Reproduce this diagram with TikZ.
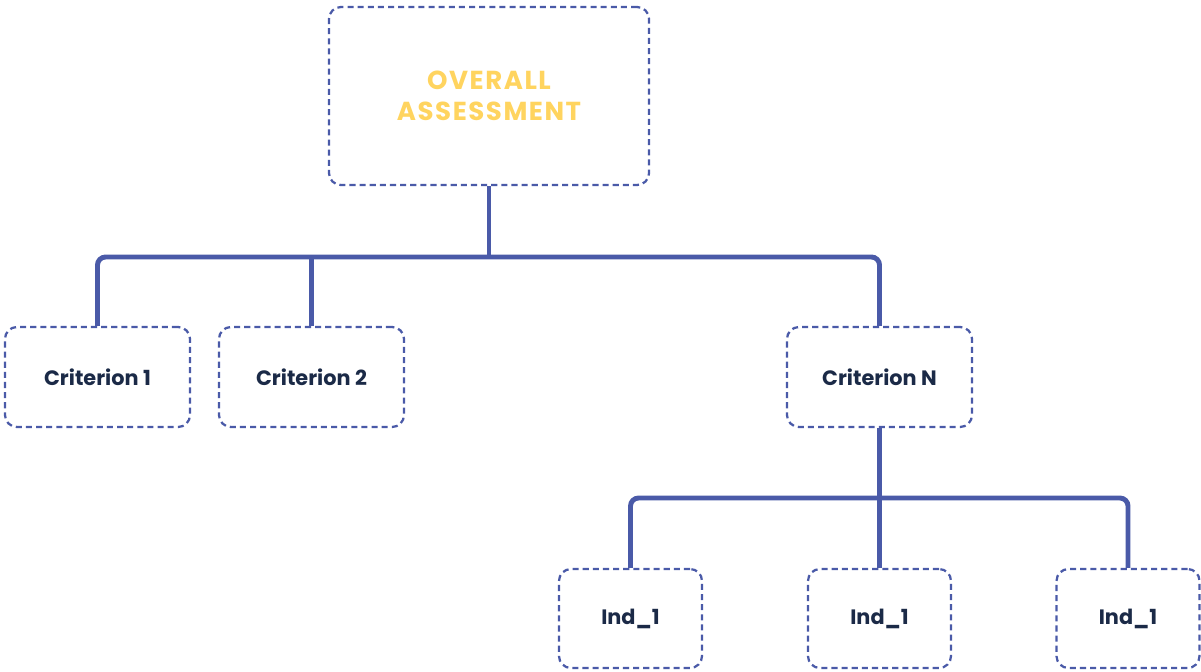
\documentclass[tikz,border=0pt]{standalone}
\usepackage{fontspec}
\setmainfont{Poppins}
\newfontfamily\titlefont[LetterSpace=6]{Poppins}
\usetikzlibrary{positioning}
\definecolor{linkblue}{HTML}{4A5AA8}
\definecolor{titleyellow}{HTML}{FFD45F}
\definecolor{textnavy}{HTML}{1B2A47}
\begin{document}
\begin{tikzpicture}[x=0.025cm, y=-0.025cm]

% definitions
\tikzstyle{box} = [rectangle, rounded corners=0.3cm, draw=linkblue, line width=1.6pt, dash pattern=on 4.3pt off 2.9pt, fill=white, text centered, text=textnavy, font=\fontsize{14.8}{17}\selectfont\bfseries]
\tikzstyle{top} = [box, minimum width=8cm, minimum height=4.45cm, text=titleyellow, font=\titlefont\fontsize{18.5}{22}\selectfont\bfseries, align=center]
\tikzstyle{criterion} = [box, minimum width=4.625cm, minimum height=2.5cm]
\tikzstyle{indicator} = [box, minimum width=3.575cm, minimum height=2.475cm]
\tikzstyle{link} = [draw=linkblue, line width=3.5pt, rounded corners=0.2cm]

\useasboundingbox (0,0) rectangle (1201,671);

% the graph
\node (root) [top] at (489,96) {OVERALL\\ASSESSMENT};

\node (c1) [criterion] at (97.5,377) {Criterion 1};
\node (c2) [criterion] at (311.5,377) {Criterion 2};
\node (cn) [criterion] at (879.5,377) {Criterion N};

\node (i1) [indicator] at (630.5,618.5) {Ind\_1};
\node (i2) [indicator] at (879.5,618.5) {Ind\_1};
\node (i3) [indicator] at (1128,618.5) {Ind\_1};

\coordinate (bus1) at (489,257);
\coordinate (bus2) at (879.5,498);

\draw [link] (root.south) -- (bus1);
\draw [link] (c1.north) |- (bus1) -| (cn.north);
\draw [link] (c2.north) -- (c2.north |- bus1);
\draw [link] (cn.south) -- (bus2);
\draw [link] (i1.north) |- (bus2) -| (i3.north);
\draw [link] (i2.north) -- (bus2);

\end{tikzpicture}
\end{document}
